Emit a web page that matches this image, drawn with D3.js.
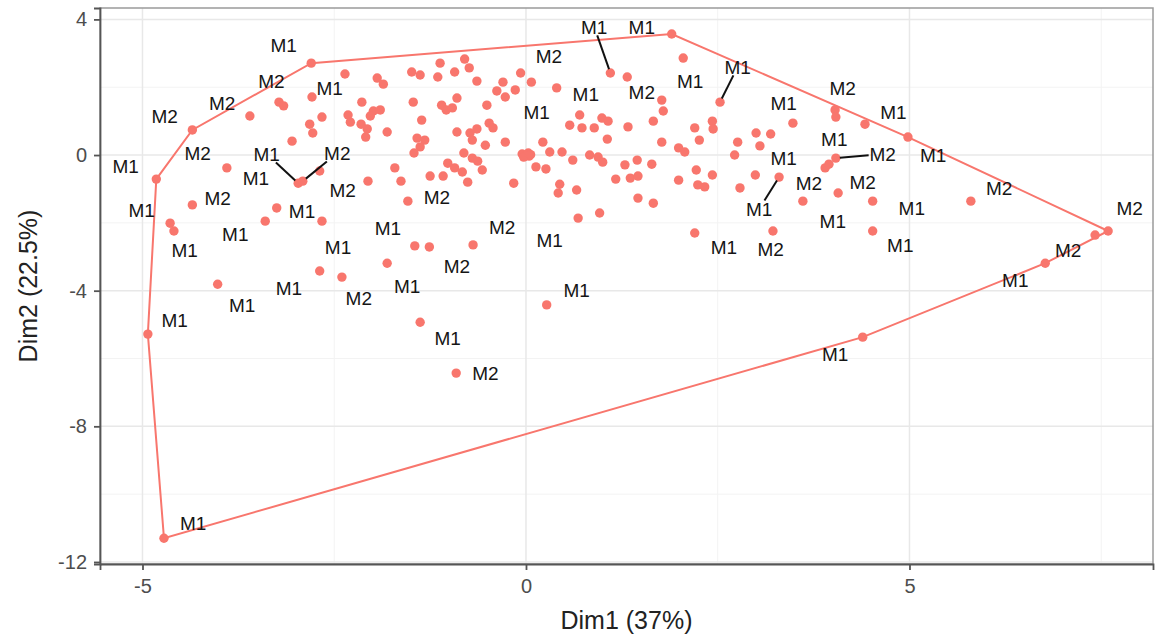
<!DOCTYPE html>
<html>
<head>
<meta charset="utf-8">
<script src="https://cdn.jsdelivr.net/npm/d3@7"></script>
<style>
  body { margin: 0; background: #fff; }
  text { font-family: "Liberation Sans", Arial, sans-serif; }
</style>
</head>
<body>
<div id="chart"></div>
<script>
// individuals on the first two dimensions (Dim1, Dim2)
const dim1 = [
  -2.80,-2.36,-1.94,-1.86,-2.79,-3.22,-3.16,-2.14,-3.60,-2.66,-2.32,-2.29,-1.99,-1.90,-2.03,
  -2.82,-2.78,-2.15,-2.07,-2.09,-1.81,-3.05,-4.35,-4.82,-3.90,-2.97,-2.91,-2.69,-2.06,-1.71,
  -4.35,-3.25,-4.64,-4.59,-3.40,-2.66,-1.81,-4.02,-2.69,-2.40,-4.93,-4.72,
  -1.63,-1.54,-1.49,-1.38,-1.12,-1.15,-0.93,-0.80,-0.74,-0.64,-0.07,-0.30,-0.38,-0.27,-0.14,
  0.07,0.40,-1.47,-1.10,-1.04,-0.96,-0.90,-0.51,-1.36,-1.42,-1.32,-1.38,-1.46,-0.90,-0.73,
  -0.64,-0.70,-0.48,-0.43,-0.53,-0.27,-0.81,-0.70,-0.63,-0.57,-1.02,-0.93,-0.83,
  -0.05,0.00,0.04,-0.03,0.03,0.06,
  0.22,0.31,0.47,0.13,0.26,0.61,0.70,0.57,0.73,0.89,-0.16,-1.25,-1.08,-0.76,0.44,0.42,0.66,
  0.68,0.96,-1.45,-1.26,-0.69,0.27,-1.38,-0.91,
  1.90,2.05,1.10,1.32,1.77,1.79,1.66,0.99,1.07,1.33,1.06,2.53,2.20,2.43,2.44,1.77,2.26,1.99,
  2.07,0.83,0.94,1.00,1.29,1.45,1.64,1.17,1.36,1.46,1.99,2.22,2.24,2.33,2.43,2.79,2.99,3.30,
  1.46,1.66,2.20,2.76,2.72,3.00,3.05,3.19,3.48,3.22,
  4.03,4.04,4.42,4.98,4.04,3.90,3.95,3.61,4.07,4.52,5.80,4.52,7.59,7.42,6.77,4.39
];
const dim2 = [
  2.71,2.39,2.27,2.09,1.71,1.56,1.45,1.56,1.15,1.12,1.18,0.97,1.30,1.33,1.15,
  0.91,0.65,0.91,0.77,0.53,0.68,0.41,0.74,-0.71,-0.38,-0.83,-0.77,-0.47,-0.77,-0.38,
  -1.47,-1.56,-2.01,-2.24,-1.95,-1.95,-3.19,-3.81,-3.42,-3.60,-5.28,-11.30,
  -0.77,-1.36,2.45,2.36,2.71,2.30,2.45,2.83,2.57,2.18,2.42,2.15,1.89,1.71,1.92,
  2.15,1.98,1.56,1.47,1.33,1.39,1.68,1.47,1.03,0.50,0.44,0.24,0.06,0.68,0.65,
  0.77,0.44,0.94,0.80,0.29,0.38,0.06,-0.09,-0.18,-0.44,-0.24,-0.38,-0.50,
  0.03,0.00,-0.03,-0.06,0.06,0.01,
  0.38,0.09,0.09,-0.35,-0.41,-0.15,1.18,0.88,0.80,0.80,-0.83,-0.62,-0.62,-0.80,-0.86,-1.12,-1.03,
  -1.86,-1.71,-2.68,-2.71,-2.65,-4.42,-4.93,-6.43,
  3.57,2.86,2.42,2.30,1.62,1.30,1.00,1.09,1.00,0.83,0.47,1.56,0.80,1.00,0.77,0.38,0.44,0.21,
  0.09,0.00,-0.06,-0.21,-0.29,-0.15,-0.27,-0.71,-0.68,-0.62,-0.74,-0.44,-0.88,-0.94,-0.59,-0.97,-0.59,-0.65,
  -1.27,-1.42,-2.30,0.38,0.00,0.65,0.27,0.62,0.94,-2.24,
  1.33,1.12,0.91,0.53,-0.09,-0.38,-0.27,-1.36,-1.12,-1.36,-1.36,-2.24,-2.24,-2.36,-3.19,-5.37
];

// repelled labels: text and where they sit (data units)
const labelText = [
  "M1","M2","M1","M2","M2","M2","M1","M1","M1","M2","M2","M2","M1","M1","M1","M1","M1","M1",
  "M1","M1","M2","M1","M1","M1","M2","M2","M1","M1","M1","M2","M2","M1","M2","M1","M1","M1",
  "M2","M1","M1","M1","M2","M1","M1","M2","M1","M1","M1","M2","M2","M1","M2","M2","M1","M1",
  "M2","M1","M2","M1","M1"
];
const labelX = [
  -3.16,-3.32,-2.56,-3.96,-4.71,-4.28,-5.22,-3.38,-3.52,-2.46,-2.39,-4.02,-5.01,-2.92,-4.45,-3.79,-2.45,-1.80,
  -3.70,-3.09,-2.18,-4.58,-4.34,-1.55,-0.90,-0.31,0.31,0.66,-1.02,-0.53,-1.16,0.14,0.30,0.89,1.51,0.78,
  1.51,2.14,2.76,3.36,4.13,4.79,4.02,4.65,5.31,3.36,3.04,3.69,4.39,5.03,6.17,7.87,4.00,2.58,
  3.19,4.88,7.07,6.38,4.03
];
const labelY = [
  3.24,2.18,1.98,1.53,1.15,0.06,-0.32,0.03,-0.68,0.06,-1.03,-1.27,-1.62,-1.65,-2.80,-2.33,-2.71,-2.15,
  -4.42,-3.92,-4.22,-4.87,-10.86,-3.86,-3.27,-2.12,-2.51,-3.98,-5.40,-6.43,-1.24,1.27,2.92,3.78,3.78,1.80,
  1.86,2.18,2.60,1.53,1.98,1.27,0.47,0.03,0.00,-0.09,-1.59,-0.83,-0.80,-1.56,-0.97,-1.56,-1.95,-2.71,
  -2.77,-2.65,-2.80,-3.69,-5.87
];
// labels pushed away from their point get a segment: [label index, point Dim1, point Dim2]
const segments = [
  [7, -2.97, -0.83],
  [9, -2.91, -0.77],
  [33, 1.10, 2.42],
  [38, 2.53, 1.56],
  [43, 4.04, -0.09],
  [46, 3.30, -0.65]
];

const xTicks = [-5, 0, 5];
const yTicks = [4, 0, -4, -8, -12];
const xTitle = "Dim1 (37%)";
const yTitle = "Dim2 (22.5%)";

const W = 1155, H = 639;
const margin = { top: 8, right: 2, bottom: 75, left: 100 };
const width = W - margin.left - margin.right,
      height = H - margin.top - margin.bottom;
const col = "#F8766D";

const svg = d3.select("#chart").append("svg")
  .attr("width", W).attr("height", H);
const g = svg.append("g")
  .attr("transform", `translate(${margin.left},${margin.top})`);

const x = d3.scaleLinear().domain([-5.554, 8.175]).range([0, width]);
const y = d3.scaleLinear().domain([-12.06, 4.336]).range([height, 0]);

// grid: minor then major
const xMinor = [-2.5, 2.5, 7.5], yMinor = [2, -2, -6, -10];
g.append("g").selectAll("line").data(xMinor).join("line")
  .attr("x1", d => x(d)).attr("x2", d => x(d)).attr("y1", 0).attr("y2", height)
  .attr("stroke", "#f3f3f3").attr("stroke-width", 1);
g.append("g").selectAll("line").data(yMinor).join("line")
  .attr("y1", d => y(d)).attr("y2", d => y(d)).attr("x1", 0).attr("x2", width)
  .attr("stroke", "#f3f3f3").attr("stroke-width", 1);
g.append("g").selectAll("line").data(xTicks).join("line")
  .attr("x1", d => x(d)).attr("x2", d => x(d)).attr("y1", 0).attr("y2", height)
  .attr("stroke", "#e8e8e8").attr("stroke-width", 1.5);
g.append("g").selectAll("line").data(yTicks).join("line")
  .attr("y1", d => y(d)).attr("y2", d => y(d)).attr("x1", 0).attr("x2", width)
  .attr("stroke", "#e8e8e8").attr("stroke-width", 1.5);

// convex hull of the cluster
const pts = dim1.map((d, i) => [x(d), y(dim2[i])]);
const hull = d3.polygonHull(pts);
g.append("path")
  .attr("d", "M" + hull.join("L") + "Z")
  .attr("fill", "none")
  .attr("stroke", col)
  .attr("stroke-width", 2);

// points
g.append("g").selectAll("circle").data(pts).join("circle")
  .attr("cx", d => d[0]).attr("cy", d => d[1])
  .attr("r", 4.7)
  .attr("fill", col);

// segments from labels to their points
const lw = 28, lh = 17;
g.append("g").selectAll("line").data(segments).join("line")
  .each(function(s) {
    const lx = x(labelX[s[0]]), ly = y(labelY[s[0]]);
    const px = x(s[1]), py = y(s[2]);
    const dx = px - lx, dy = py - ly;
    const t = Math.min(Math.abs((lw / 2) / dx), Math.abs((lh / 2) / dy));
    const len = Math.hypot(dx, dy);
    const end = 1 - 4 / len;
    d3.select(this)
      .attr("x1", lx + dx * t).attr("y1", ly + dy * t)
      .attr("x2", lx + dx * end).attr("y2", ly + dy * end);
  })
  .attr("stroke", "#111").attr("stroke-width", 2);

// labels
g.append("g").selectAll("text").data(labelText).join("text")
  .attr("x", (d, i) => x(labelX[i]))
  .attr("y", (d, i) => y(labelY[i]))
  .attr("dy", "0.36em")
  .attr("text-anchor", "middle")
  .attr("font-size", 19)
  .attr("fill", "#151515")
  .text(d => d);

// panel border
g.append("rect")
  .attr("width", width).attr("height", height)
  .attr("fill", "none").attr("stroke", "#9a9a9a").attr("stroke-width", 1.5);

// axes
const xAxis = g.append("g")
  .attr("transform", `translate(0,${height})`)
  .call(d3.axisBottom(x).tickValues(xTicks).tickSize(6).tickPadding(9).tickFormat(d3.format("d")));
const yAxis = g.append("g")
  .call(d3.axisLeft(y).tickValues(yTicks).tickSize(6).tickPadding(7).tickFormat(d3.format("d")));
[xAxis, yAxis].forEach(a => {
  a.select(".domain").attr("stroke", "#555").attr("stroke-width", 1.8);
  a.selectAll(".tick line").attr("stroke", "#555").attr("stroke-width", 1.8);
  a.selectAll(".tick text")
    .attr("fill", "#4d4d4d")
    .attr("font-size", 20)
    .style("font-family", "'Liberation Sans', Arial, sans-serif");
});
// use hyphen-minus like the original
svg.selectAll(".tick text").text(function() { return d3.select(this).text().replace("\u2212", "-"); });

svg.append("text")
  .attr("x", margin.left + width / 2)
  .attr("y", 629)
  .attr("text-anchor", "middle")
  .attr("font-size", 25)
  .attr("fill", "#222")
  .text(xTitle);

svg.append("text")
  .attr("transform", `translate(37,${margin.top + height / 2}) rotate(-90)`)
  .attr("text-anchor", "middle")
  .attr("font-size", 25)
  .attr("fill", "#222")
  .text(yTitle);
</script>
</body>
</html>
